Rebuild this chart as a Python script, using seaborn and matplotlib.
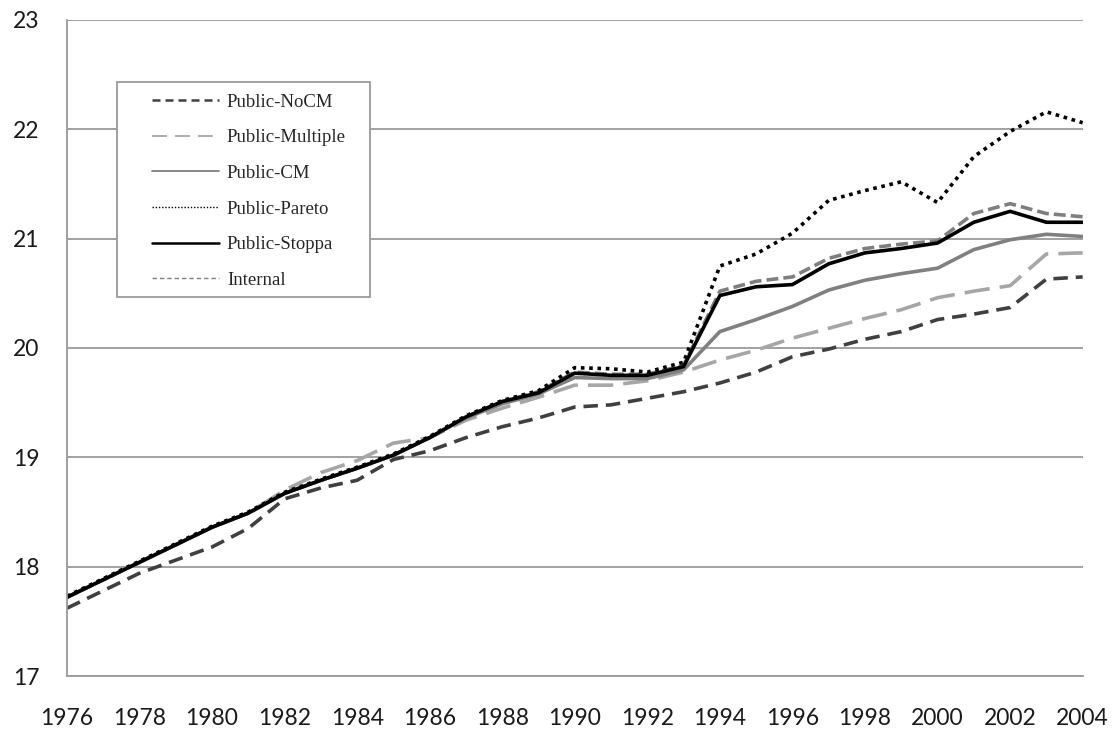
import matplotlib
matplotlib.use("Agg")
import matplotlib.pyplot as plt
from matplotlib.lines import Line2D
from matplotlib.patches import Rectangle
import seaborn as sns
import pandas as pd

years = list(range(1976, 2005))

public_nocm = [17.62, 17.78, 17.94, 18.06, 18.18, 18.35, 18.62, 18.72, 18.79, 18.98, 19.06,
               19.18, 19.28, 19.36, 19.46, 19.48, 19.54, 19.60, 19.68, 19.78, 19.92, 19.99,
               20.08, 20.15, 20.26, 20.31, 20.37, 20.63, 20.65]
public_multiple = [17.72, 17.88, 18.04, 18.20, 18.36, 18.49, 18.70, 18.86, 18.97, 19.13, 19.18,
                   19.34, 19.45, 19.55, 19.66, 19.66, 19.70, 19.78, 19.89, 19.98, 20.09, 20.18,
                   20.27, 20.35, 20.46, 20.52, 20.57, 20.86, 20.87]
public_cm = [17.72, 17.88, 18.04, 18.20, 18.36, 18.49, 18.67, 18.79, 18.90, 19.02, 19.18,
             19.36, 19.49, 19.58, 19.73, 19.72, 19.72, 19.80, 20.15, 20.26, 20.38, 20.53,
             20.62, 20.68, 20.73, 20.90, 20.99, 21.04, 21.02]
public_pareto = [17.73, 17.89, 18.05, 18.21, 18.37, 18.50, 18.68, 18.80, 18.91, 19.03, 19.19,
                 19.38, 19.52, 19.61, 19.82, 19.81, 19.78, 19.87, 20.75, 20.86, 21.05, 21.35,
                 21.44, 21.52, 21.33, 21.75, 21.98, 22.16, 22.06]
public_stoppa = [17.72, 17.88, 18.04, 18.20, 18.36, 18.49, 18.67, 18.79, 18.90, 19.02, 19.18,
                 19.37, 19.51, 19.59, 19.77, 19.75, 19.75, 19.83, 20.48, 20.56, 20.58, 20.77,
                 20.87, 20.91, 20.96, 21.15, 21.25, 21.15, 21.15]
internal = [17.72, 17.88, 18.04, 18.20, 18.36, 18.49, 18.67, 18.79, 18.90, 19.02, 19.18,
            19.37, 19.51, 19.60, 19.78, 19.76, 19.76, 19.84, 20.52, 20.61, 20.65, 20.82,
            20.91, 20.95, 20.98, 21.23, 21.32, 21.23, 21.20]

names = ["Public-NoCM", "Public-Multiple", "Public-CM", "Public-Pareto", "Public-Stoppa", "Internal"]
series = [public_nocm, public_multiple, public_cm, public_pareto, public_stoppa, internal]

# colour, dashes in plot, dashes in legend, legend width
styles = {
    "Public-NoCM": ("#404040", (4, 2.2), (3.2, 2.0), 1.8),
    "Public-Multiple": ("#a6a6a6", (7, 2.8), (8.3, 4.4), 1.3),
    "Public-CM": ("#808080", None, None, 1.3),
    "Public-Pareto": ("#000000", (1, 1.3), (1.0, 1.3), 1.0),
    "Public-Stoppa": ("#000000", None, None, 1.8),
    "Internal": ("#7f7f7f", (3.3, 1.4), (3.2, 2.1), 1.0),
}
LW = 2.6

df = pd.DataFrame({"year": years})
for n, s in zip(names, series):
    df[n] = s
long = df.melt(id_vars="year", var_name="series", value_name="value")

sns.set_style("white")
fig = plt.figure(figsize=(11.15, 7.32), dpi=100)
ax = fig.add_axes([0.060, 0.0765, 0.911, 0.8962])

draw_order = ["Public-NoCM", "Public-Multiple", "Public-CM", "Internal", "Public-Pareto", "Public-Stoppa"]
for n in draw_order:
    col, dash, _, _ = styles[n]
    sub = long[long["series"] == n]
    sns.lineplot(data=sub, x="year", y="value", color=col, linewidth=LW, ax=ax)
    ln = ax.get_lines()[-1]
    if dash is not None:
        ln.set_dashes(dash)
    ln.set_dash_capstyle("butt")

grey = "#9a9a9a"
ax.set_xlim(1976, 2004)
ax.set_ylim(17, 23)
ax.set_xticks(range(1976, 2005, 2))
ax.set_yticks(range(17, 24))
ax.yaxis.grid(True, color=grey, linewidth=1.3)
ax.xaxis.grid(False)
ax.set_xlabel("")
ax.set_ylabel("")
for side in ["top", "right"]:
    ax.spines[side].set_visible(False)
for side in ["left", "bottom"]:
    ax.spines[side].set_color(grey)
    ax.spines[side].set_linewidth(1.3)
ax.tick_params(axis="both", direction="out", length=6, width=1.3, color=grey,
               labelsize=16.5, labelcolor="#1a1a1a")
ax.tick_params(axis="x", pad=17)
ax.tick_params(axis="y", pad=14)
for t in ax.get_xticklabels() + ax.get_yticklabels():
    t.set_family("Lato")

# legend frame drawn separately so horizontal and vertical padding can differ
ax.add_patch(Rectangle((0.0492, 0.5777), 0.2490, 0.3278, transform=ax.transAxes,
                       facecolor="white", edgecolor=grey, linewidth=1.3, zorder=5))

handles = []
for n in names:
    col, _, ldash, lw_leg = styles[n]
    h = Line2D([0], [0], color=col, linewidth=lw_leg, dash_capstyle="butt")
    if ldash is not None:
        h.set_dashes(ldash)
    handles.append(h)
leg = ax.legend(handles, names, loc="upper left", bbox_to_anchor=(0.0837, 0.888),
                frameon=False, borderpad=0, labelspacing=0.99,
                handlelength=3.6, handletextpad=0.4, borderaxespad=0,
                prop={"family": "Liberation Serif", "size": 13.5})
leg.set_zorder(6)

fig.savefig("out.png", dpi=100)
